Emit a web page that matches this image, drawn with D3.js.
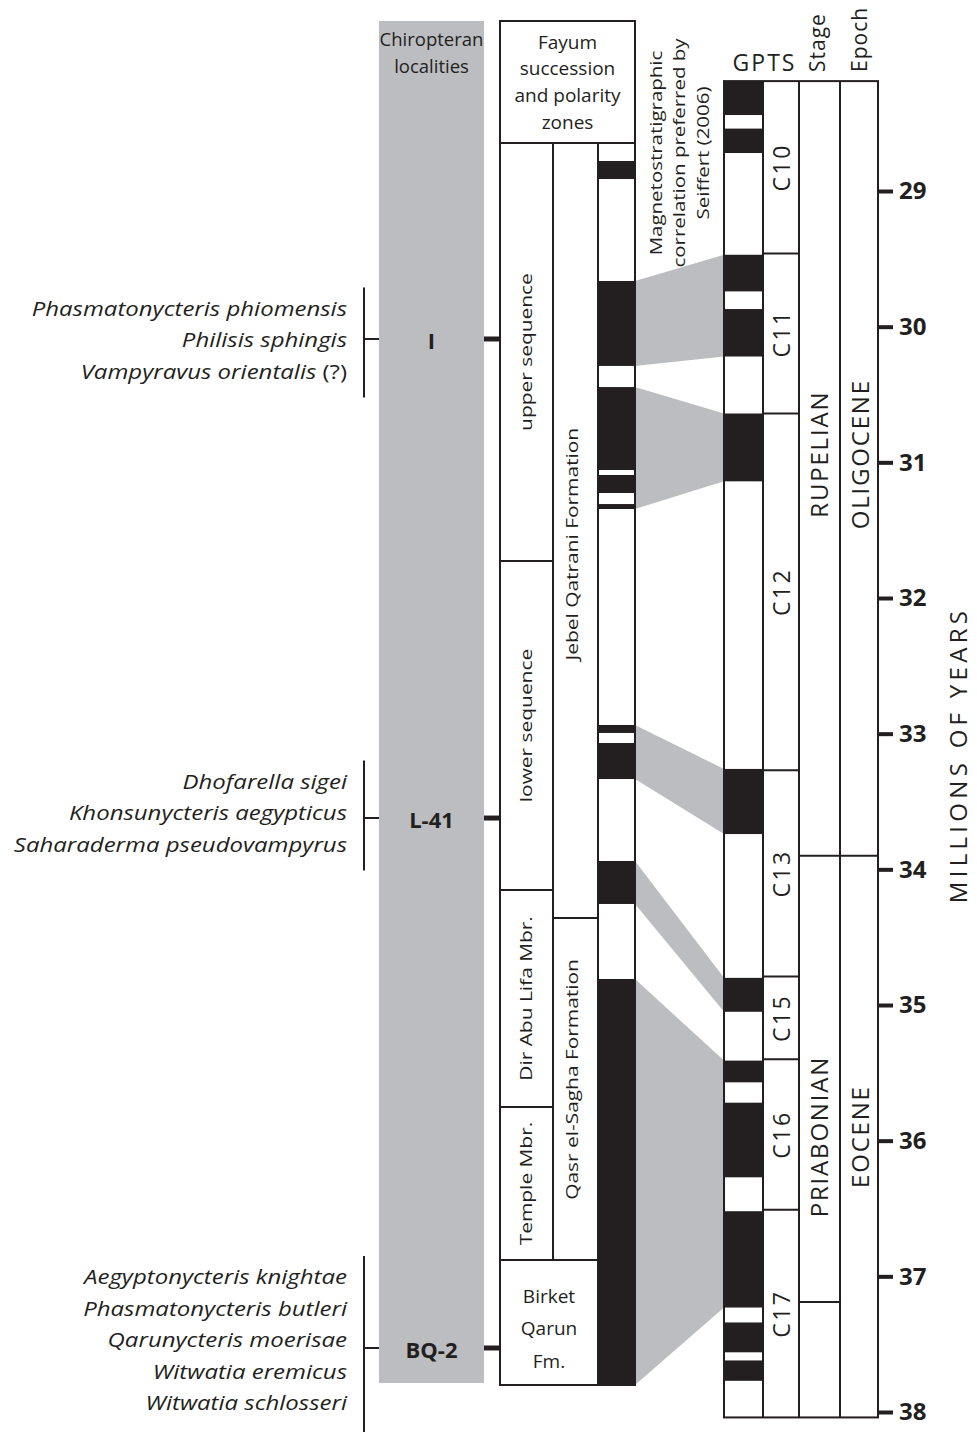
<!DOCTYPE html>
<html><head><meta charset="utf-8">
<script src="https://cdn.jsdelivr.net/npm/d3@7"></script>
<style>
html,body{margin:0;padding:0;background:#fff;}
svg text{font-family:"Open Sans",sans-serif;fill:#231f20;}
</style></head><body>
<svg id="c" width="977" height="1432"></svg>
<script>
// ---------- DATA ----------
// GPTS (ages in Ma)
const gptsTop = 28.19, gptsBase = 38.04;
const gptsNormal = [[28.19,28.44],[28.54,28.72],[29.47,29.74],[29.87,30.22],[30.64,31.14],
  [33.26,33.74],[34.80,35.05],[35.41,35.57],[35.72,36.27],[36.52,37.23],[37.34,37.56],[37.62,37.77]];
const chronNames = ["C10","C11","C12","C13","C15","C16","C17"];
const chronBounds = [28.19,29.46,30.64,33.27,34.79,35.40,36.51,38.04];
const stageNames = ["RUPELIAN","PRIABONIAN"];
const stageBounds = [28.19,33.90,37.19,38.04];
const stageLabelAges = [30.94,35.97];
const epochNames = ["OLIGOCENE","EOCENE"];
const epochBounds = [28.19,33.90,38.04];
const ageTicks = [29,30,31,32,33,34,35,36,37,38];

// Fayum section (relative position, 0 = top, 100 = base)
const fayumNormal = [[1.45,2.90],[11.11,17.95],[19.65,26.33],[26.73,28.18],[29.07,29.47],
  [46.86,47.50],[48.31,51.21],[57.81,61.27],[67.31,100]];
const seqNames = ["upper sequence","lower sequence","Dir Abu Lifa Mbr.","Temple Mbr."];
const seqBounds = [0,33.66,60.14,77.62,89.94];
const fmNames = ["Jebel Qatrani Formation","Qasr el-Sagha Formation"];
const fmBounds = [0,62.40,89.94];
const fmLabelLevels = [32.3,75.4];
const baseUnitLines = ["Birket","Qarun","Fm."];

// Correlations: Fayum interval -> GPTS interval
const corrFayum = [[11.11,17.95],[19.65,29.47],[46.86,51.21],[57.81,61.27],[67.31,100]];
const corrGpts  = [[29.47,30.22],[30.64,31.14],[33.26,33.74],[34.80,35.05],[35.41,37.23]];

// Chiropteran localities
const locNames = ["I","L-41","BQ-2"];
const locLevels = [15.78,54.35,97.02];
const locTaxa = [
  ["Phasmatonycteris phiomensis","Philisis sphingis","Vampyravus orientalis|(?)"],
  ["Dhofarella sigei","Khonsunycteris aegypticus","Saharaderma pseudovampyrus"],
  ["Aegyptonycteris knightae","Phasmatonycteris butleri","Qarunycteris moerisae","Witwatia eremicus","Witwatia schlosseri"]
];

// ---------- DRAW ----------
const BLACK = "#231f20", GREY = "#bcbdc0";
const svg = d3.select("#c");
const yAge = d3.scaleLinear().domain([29,38]).range([191,1412]);
const yFay = d3.scaleLinear().domain([0,100]).range([143,1385]);

// layout
const gx0 = 724, gx1 = 763, gx2 = 799, gx3 = 840, gx4 = 878;
const fx0 = 500, fx1 = 553, fx2 = 598, fx3 = 635;
const lx0 = 379, lx1 = 484;
const taxaShift = [1,-5,-8];

function vtext(cx, cy, txt, size, stretch, extra){
  const t = svg.append("text").attr("transform",`translate(${cx},${cy}) rotate(-90) scale(${stretch},1)`)
    .attr("dy","0.35em").attr("text-anchor","middle").attr("font-size",size).text(txt);
  if(extra) t.attr("letter-spacing",extra);
  return t;
}

// locality grey column
svg.append("rect").attr("x",lx0).attr("y",21).attr("width",lx1-lx0).attr("height",yFay(100)-23).attr("fill",GREY);
["Chiropteran","localities"].forEach((t,i)=>
  svg.append("text").attr("x",(lx0+lx1)/2).attr("y",40+i*27).attr("dy","0.35em").attr("text-anchor","middle").attr("font-size",18.5).text(t));

// correlation polygons
const corr = corrFayum.map((f,i)=>[[fx3,yFay(f[0])],[gx0,yAge(corrGpts[i][0])],[gx0,yAge(corrGpts[i][1])],[fx3,yFay(f[1])]]);
svg.selectAll("polygon.corr").data(corr).join("polygon").attr("class","corr")
  .attr("points",d=>d.map(p=>p.join(",")).join(" ")).attr("fill",GREY);

// Fayum header box
svg.append("rect").attr("x",fx0).attr("y",21).attr("width",fx3-fx0).attr("height",143-21)
  .attr("fill","#fff").attr("stroke",BLACK).attr("stroke-width",2);
["Fayum","succession","and polarity","zones"].forEach((t,i)=>{
  svg.append("text").attr("x",(fx0+fx3)/2).attr("y",42+i*26.7).attr("dy","0.35em").attr("text-anchor","middle").attr("font-size",19).text(t);
});

// Fayum polarity column
svg.append("rect").attr("x",fx2).attr("y",yFay(0)).attr("width",fx3-fx2).attr("height",yFay(100)-yFay(0)).attr("fill","#fff");
svg.selectAll("rect.fn").data(fayumNormal).join("rect").attr("class","fn")
  .attr("x",fx2).attr("width",fx3-fx2).attr("y",d=>yFay(d[0])).attr("height",d=>yFay(d[1])-yFay(d[0])).attr("fill",BLACK);

// Fayum unit lines
const fg = svg.append("g").attr("stroke",BLACK).attr("stroke-width",2).attr("fill","none");
fg.append("rect").attr("x",fx0).attr("y",yFay(0)).attr("width",fx3-fx0).attr("height",yFay(100)-yFay(0));
fg.append("line").attr("x1",fx1).attr("x2",fx1).attr("y1",yFay(0)).attr("y2",yFay(seqBounds[seqBounds.length-1]));
fg.append("line").attr("x1",fx2).attr("x2",fx2).attr("y1",yFay(0)).attr("y2",yFay(100));
seqBounds.slice(1).forEach(b=>fg.append("line").attr("x1",fx0).attr("x2",fx1).attr("y1",yFay(b)).attr("y2",yFay(b)));
fmBounds.slice(1).forEach(b=>fg.append("line").attr("x1",fx1).attr("x2",fx2).attr("y1",yFay(b)).attr("y2",yFay(b)));

seqNames.forEach((n,i)=>vtext((fx0+fx1)/2, yFay((seqBounds[i]+seqBounds[i+1])/2), n, 17, 1.23));
fmNames.forEach((n,i)=>vtext((fx1+fx2)/2-3, yFay(fmLabelLevels[i]), n, 17, 1.23));
baseUnitLines.forEach((t,i)=>{
  const cy = yFay((seqBounds[seqBounds.length-1]+100)/2) + 6 + (i-1)*32.5;
  svg.append("text").attr("x",(fx0+fx2)/2).attr("y",cy).attr("dy","0.35em").attr("text-anchor","middle").attr("font-size",19).text(t);
});

// localities
locNames.forEach((n,i)=>{
  const y = yFay(locLevels[i]);
  svg.append("line").attr("x1",lx1).attr("x2",fx0).attr("y1",y).attr("y2",y).attr("stroke",BLACK).attr("stroke-width",5);
  svg.append("text").attr("x",(lx0+lx1)/2).attr("y",y+2).attr("dy","0.37em").attr("text-anchor","middle")
    .attr("font-size",22).attr("font-weight","bold").text(n);
  const taxa = locTaxa[i], lh = 31.5;
  const y0 = y + taxaShift[i] - (taxa.length-1)*lh/2;
  taxa.forEach((t,j)=>{
    const parts = t.split("|");
    const tx = svg.append("text").attr("transform",`translate(347,${y0+j*lh}) scale(1.17,1)`)
      .attr("dy","0.35em").attr("text-anchor","end").attr("font-size",20.5);
    tx.append("tspan").attr("font-style","italic").text(parts[0]);
    if(parts[1]) tx.append("tspan").text(" "+parts[1]);
  });
  const bTop = y0 - 21, bBot = i===locNames.length-1 ? 1432 : y0+(taxa.length-1)*lh + 26;
  svg.append("line").attr("x1",364).attr("x2",364).attr("y1",bTop).attr("y2",bBot).attr("stroke",BLACK).attr("stroke-width",2);
  svg.append("line").attr("x1",364).attr("x2",lx0).attr("y1",y).attr("y2",y).attr("stroke",BLACK).attr("stroke-width",2);
});

// magnetostratigraphic label
["Magnetostratigraphic","correlation preferred by","Seiffert (2006)"].forEach((t,i)=>
  vtext(656+i*23.5, 153, t, 16, 1.28));

// GPTS column
svg.append("rect").attr("x",gx0).attr("y",yAge(gptsTop)).attr("width",gx4-gx0).attr("height",yAge(gptsBase)-yAge(gptsTop)).attr("fill","#fff");
svg.selectAll("rect.gn").data(gptsNormal).join("rect").attr("class","gn")
  .attr("x",gx0).attr("width",gx1-gx0).attr("y",d=>yAge(d[0])).attr("height",d=>yAge(d[1])-yAge(d[0])).attr("fill",BLACK);
const gg = svg.append("g").attr("stroke",BLACK).attr("stroke-width",2).attr("fill","none");
gg.append("rect").attr("x",gx0).attr("y",yAge(gptsTop)).attr("width",gx4-gx0).attr("height",yAge(gptsBase)-yAge(gptsTop));
[gx1,gx2,gx3].forEach(x=>gg.append("line").attr("x1",x).attr("x2",x).attr("y1",yAge(gptsTop)).attr("y2",yAge(gptsBase)));
chronBounds.slice(1,-1).forEach(b=>gg.append("line").attr("x1",gx1).attr("x2",gx2).attr("y1",yAge(b)).attr("y2",yAge(b)));
stageBounds.slice(1,-1).forEach(b=>gg.append("line").attr("x1",gx2).attr("x2",gx3).attr("y1",yAge(b)).attr("y2",yAge(b)));
epochBounds.slice(1,-1).forEach(b=>gg.append("line").attr("x1",gx3).attr("x2",gx4).attr("y1",yAge(b)).attr("y2",yAge(b)));

chronNames.forEach((n,i)=>vtext((gx1+gx2)/2+1, yAge((chronBounds[i]+chronBounds[i+1])/2), n, 23, 1, 2.5));
stageNames.forEach((n,i)=>vtext((gx2+gx3)/2, yAge(stageLabelAges[i]), n, 24, 1, 1.8));
epochNames.forEach((n,i)=>vtext((gx3+gx4)/2+2, yAge(stageLabelAges[i]), n, 24, 1, 1.8));

// headers
svg.append("text").attr("x",(gx0+gx2)/2+3).attr("y",71).attr("text-anchor","middle").attr("font-size",23).attr("letter-spacing",2).text("GPTS");
svg.append("text").attr("transform",`translate(${(gx2+gx3)/2+5},72) rotate(-90)`).attr("text-anchor","start").attr("font-size",21).attr("letter-spacing",1).text("Stage");
svg.append("text").attr("transform",`translate(${(gx3+gx4)/2+8},72) rotate(-90)`).attr("text-anchor","start").attr("font-size",21).attr("letter-spacing",1).text("Epoch");

// age axis
const axis = d3.axisRight(yAge).tickValues(ageTicks).tickSize(15).tickPadding(6).tickFormat(d3.format("d"));
const ag = svg.append("g").attr("transform",`translate(${gx4},0)`).call(axis);
ag.select(".domain").remove();
ag.selectAll(".tick line").attr("stroke",BLACK).attr("stroke-width",4);
ag.selectAll(".tick text").attr("font-size",24).attr("font-weight","bold").attr("fill",BLACK)
  .attr("font-family","'Open Sans',sans-serif");

vtext(959, 755, "MILLIONS OF YEARS", 24, 1, 4.3);
</script>
</body></html>
